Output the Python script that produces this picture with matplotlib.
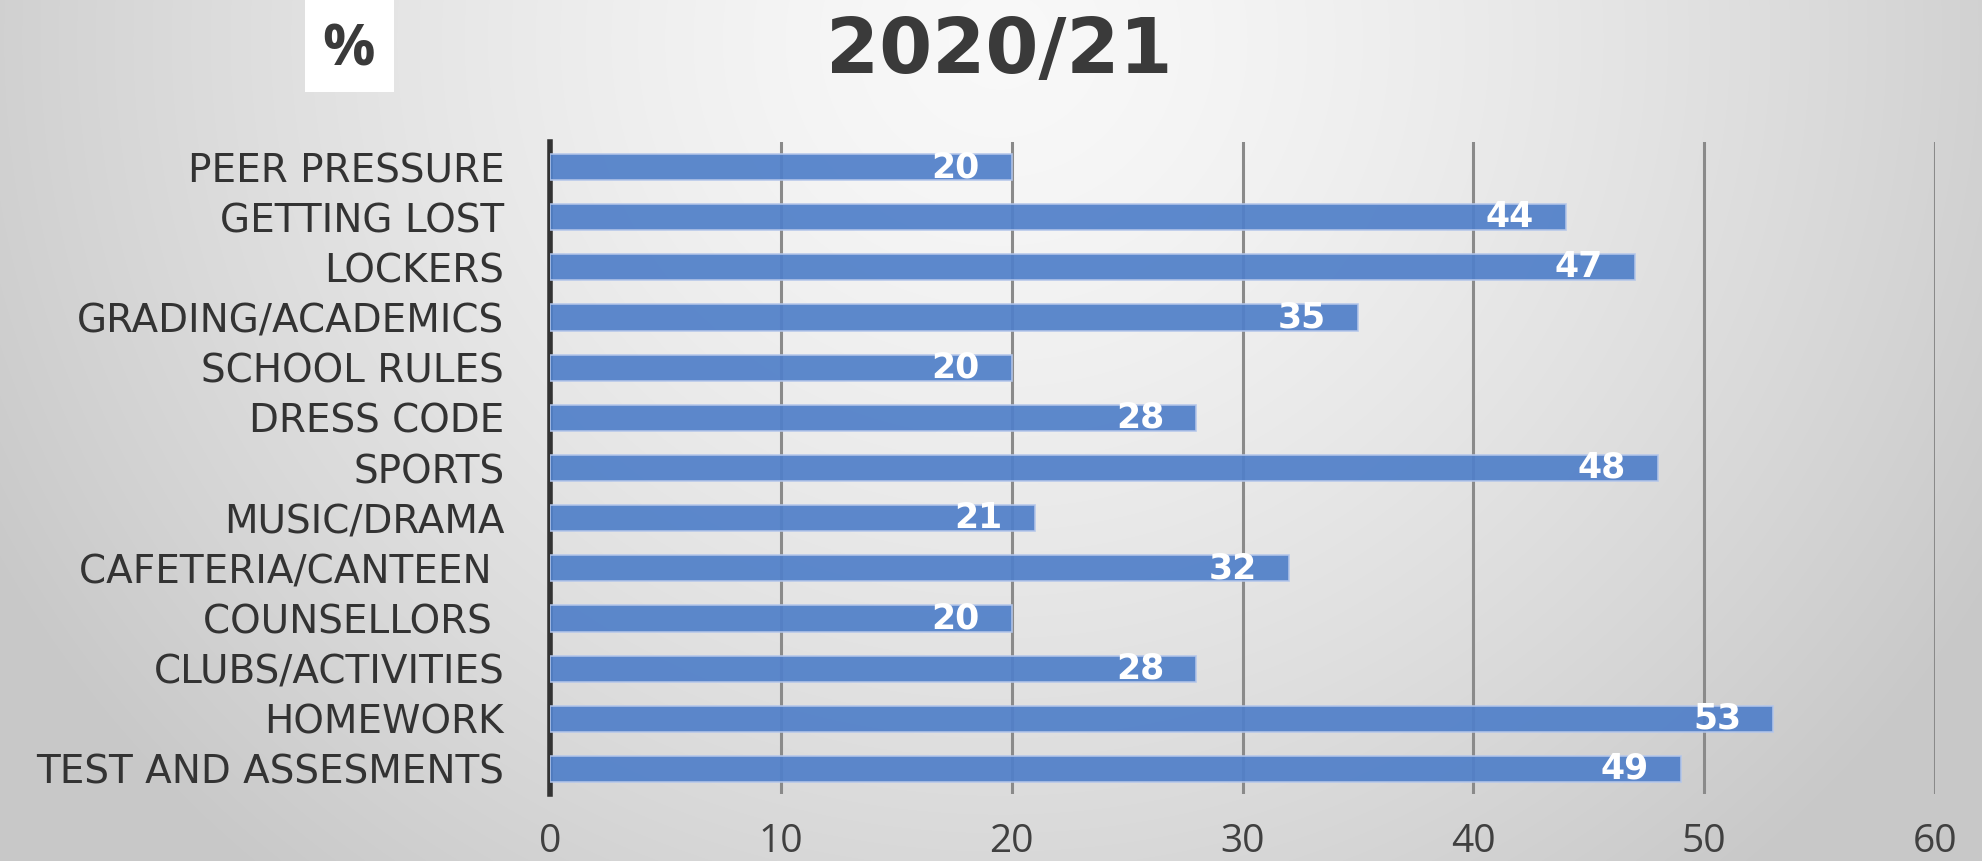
import numpy as np
import matplotlib
matplotlib.use("Agg")
import matplotlib.pyplot as plt
from matplotlib import font_manager

categories = ["PEER PRESSURE", "GETTING LOST", "LOCKERS", "GRADING/ACADEMICS",
              "SCHOOL RULES", "DRESS CODE", "SPORTS", "MUSIC/DRAMA",
              "CAFETERIA/CANTEEN ", "COUNSELLORS ", "CLUBS/ACTIVITIES",
              "HOMEWORK", "TEST AND ASSESMENTS"]
values = [20, 44, 47, 35, 20, 28, 48, 21, 32, 20, 28, 53, 49]
xticks = [0, 10, 20, 30, 40, 50, 60]
title = "2020/21"
unit_label = "%"

names = {f.name for f in font_manager.fontManager.ttflist}
narrow = "Liberation Sans Narrow" if "Liberation Sans Narrow" in names else "Open Sans"

W, H = 1982, 861
fig = plt.figure(figsize=(W / 100, H / 100), dpi=100)

# background radial gradient
bg = fig.add_axes([0, 0, 1, 1], zorder=-10)
yy, xx = np.mgrid[0:H, 0:W]
cx, cy = 1000, 40
d = np.sqrt(((xx - cx) / 1150.0) ** 2 + ((yy - cy) / 1100.0) ** 2)
d = np.clip(d, 0, 1)
lev = 0.975 - 0.19 * d ** 1.4
img = np.dstack([lev, lev, lev])
bg.imshow(img, aspect="auto", extent=[0, 1, 0, 1], origin="upper")
bg.set_axis_off()

# unit box
fig.patches.append(plt.Rectangle((305 / W, 1 - 92 / H), 89 / W, 92 / H,
                                 transform=fig.transFigure, facecolor="white",
                                 edgecolor="none", zorder=1))
fig.text(348 / W, 1 - 51 / H, unit_label, ha="center", va="center",
         fontsize=42, fontweight="bold", color="#3a3a3a", family=narrow, zorder=2)

fig.text(999 / W, 1 - 52 / H, title, ha="center", va="center",
         fontsize=55, fontweight="bold", color="#3a3a3a", family="DejaVu Sans")

ax = fig.add_axes([550 / W, 1 - 794 / H, (1935 - 550) / W, (794 - 142) / H])
ax.patch.set_alpha(0)
y = np.arange(len(categories))
ax.barh(y, values, height=0.52, color="#5180c9", edgecolor="#b4c6ea",
        linewidth=1.2, alpha=0.93, zorder=3)
ax.set_ylim(len(categories) - 0.5, -0.5)
ax.set_xlim(0, 60)
ax.set_xticks(xticks)
ax.set_xticklabels([str(t) for t in xticks])
ax.set_yticks(y)
ax.set_yticklabels(categories)
ax.xaxis.grid(True, color="#8a8a8a", linewidth=2.2, zorder=1)
ax.set_axisbelow(True)
for s in ["top", "right", "bottom"]:
    ax.spines[s].set_visible(False)
ax.spines["left"].set_color("#333333")
ax.spines["left"].set_linewidth(4)
ax.tick_params(axis="both", length=0)
ax.tick_params(axis="x", pad=21, labelsize=28, labelcolor="#404040")
ax.tick_params(axis="y", pad=33, labelsize=28, labelcolor="#333333")
for lab in ax.get_xticklabels():
    lab.set_family(narrow)
for lab in ax.get_yticklabels():
    lab.set_family("DejaVu Sans")

for yi, v in zip(y, values):
    ax.annotate(str(v), (v, yi), xytext=(-23, 0), textcoords="offset points",
                ha="right", va="center", color="white", fontsize=25,
                fontweight="bold", family="DejaVu Sans", zorder=5)

fig.savefig("out.png", dpi=100)
